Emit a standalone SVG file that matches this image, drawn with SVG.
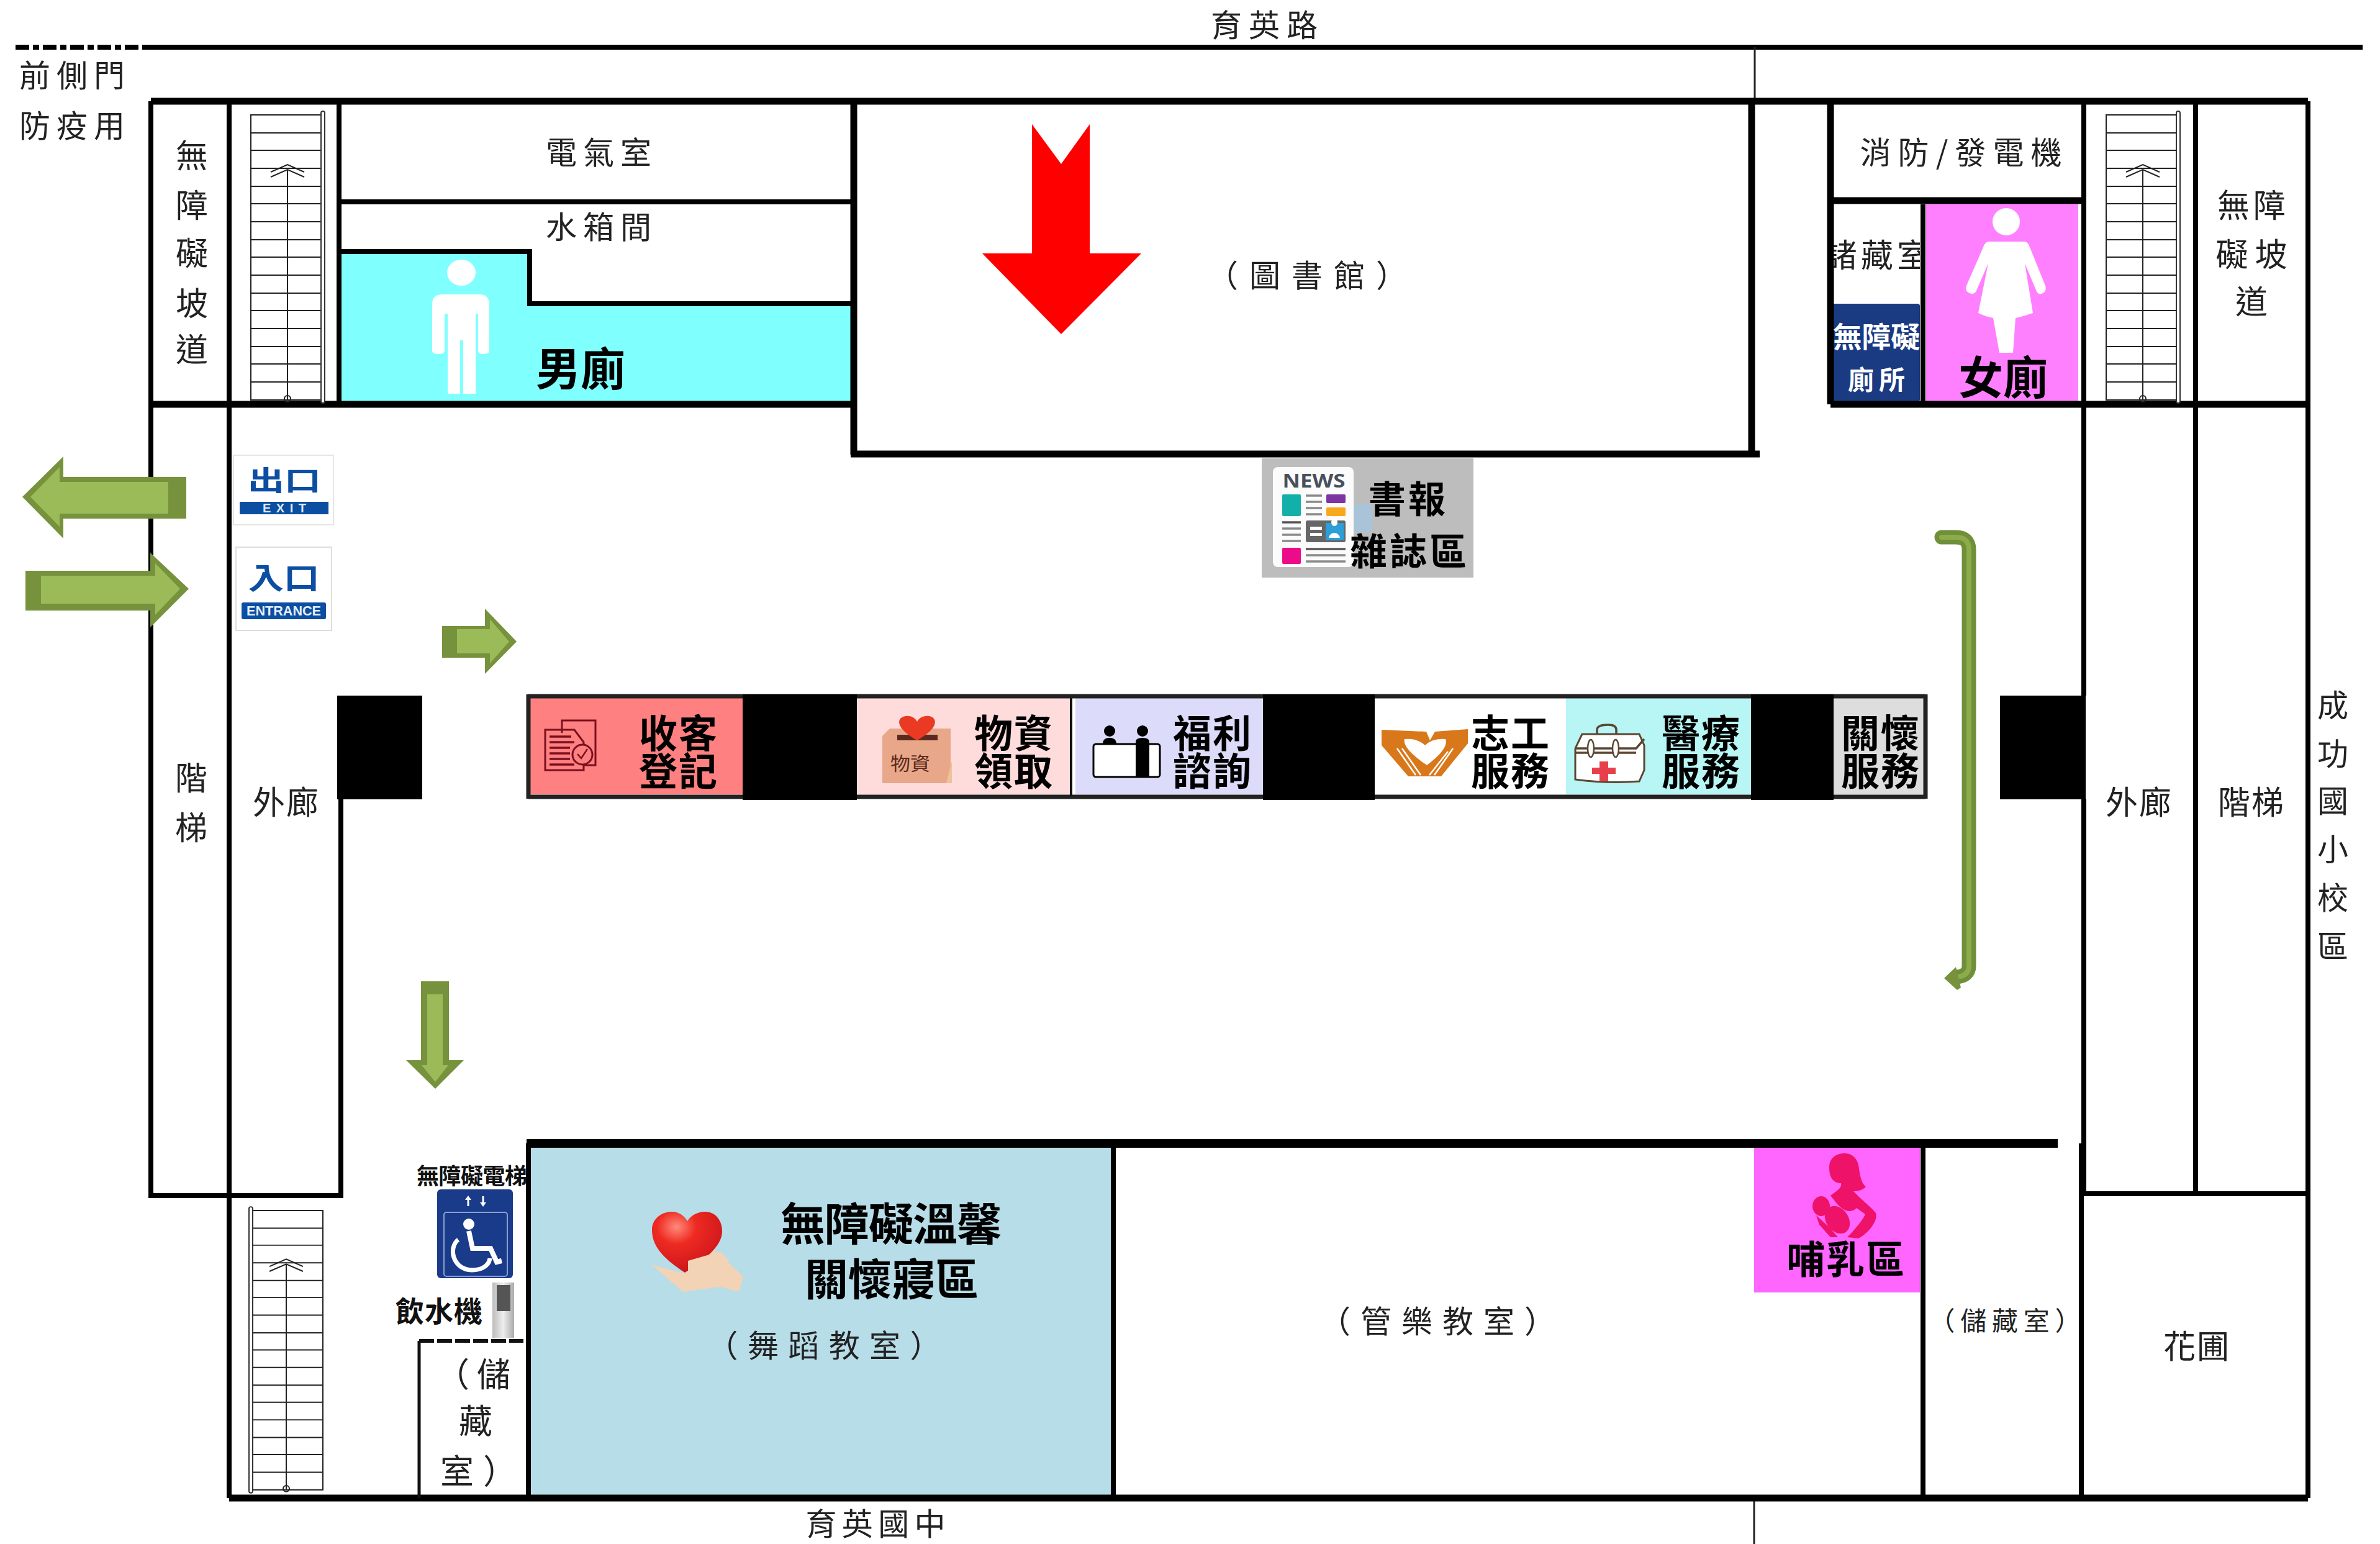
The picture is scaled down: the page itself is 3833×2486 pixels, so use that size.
<svg xmlns="http://www.w3.org/2000/svg" width="3833" height="2486" viewBox="0 0 3833 2486">
<style>
text{font-family:"Noto Sans CJK TC","Noto Sans CJK JP",sans-serif;dominant-baseline:central;text-anchor:middle;fill:#222;transform:translateY(-.11em)}
.s50{font-size:50px}.s52{font-size:52px}.s42{font-size:42px}
.b{font-weight:700;fill:#000}
.r{font-size:62px;font-weight:700;fill:#000;letter-spacing:2px}
.n{font-size:60px;font-weight:700;fill:#000;letter-spacing:4px}
.w{fill:none;stroke:#000;stroke-width:8}
.t{fill:none;stroke:#000;stroke-width:11}
.sl{fill:none;stroke:#222;stroke-width:2}
.bk{fill:#000}
.ad{fill:#76923c}.al{fill:#9bbb59}
</style>
<defs>
<g id="stair">
<rect class="sl" x="0" y="0" width="115" height="459"/>
<path class="sl" d="M0,29H115M0,57H115M0,86H115M0,115H115M0,143H115M0,172H115M0,201H115M0,229H115M0,258H115M0,287H115M0,315H115M0,344H115M0,373H115M0,401H115M0,430H115"/>
<path class="sl" d="M59,458V88M32,92L59,80L86,92M32,100L59,88L86,100"/>
<circle class="sl" cx="59" cy="457" r="5" fill="#fff"/>
<rect x="113" y="-6" width="6" height="470" rx="3" fill="#fff" stroke="#333" stroke-width="2"/>
</g>
<radialGradient id="hg" cx="35%" cy="25%" r="80%"><stop offset="0" stop-color="#ff8a7a"/><stop offset=".35" stop-color="#ee2a22"/><stop offset="1" stop-color="#c8141a"/></radialGradient>
<linearGradient id="fg" x1="0" x2="1"><stop offset="0" stop-color="#bbb"/><stop offset=".5" stop-color="#eee"/><stop offset="1" stop-color="#aaa"/></linearGradient>
</defs>
<rect width="3833" height="2486" fill="#fff"/>

<g id="fills">
<path fill="#80ffff" d="M550,405H853V489H1375V651H550Z"/>
<rect x="3102" y="329" width="245" height="319" fill="#ff80ff"/>
<rect x="2951" y="489" width="141" height="158" rx="4" fill="#1a3a82"/>
<rect x="855" y="1846" width="938" height="561" fill="#b7dde8"/>
<rect x="2825" y="1848" width="267" height="233" fill="#ff66ff"/>
<rect x="851" y="1124" width="345" height="155" fill="#ff8080"/>
<rect x="1380" y="1124" width="345" height="155" fill="#ffdcdc"/>
<rect x="1732" y="1124" width="302" height="155" fill="#dcdcfa"/>
<rect x="2522" y="1124" width="298" height="155" fill="#b8f5f5"/>
<rect x="2953" y="1124" width="148" height="155" fill="#dddddd"/>
</g>

<g id="walls">
<path class="w" d="M25,76H230" stroke-dasharray="22 6 10 6"/>
<path class="w" d="M230,76H3805"/>
<path fill="none" stroke="#222" stroke-width="3" d="M2826,76V163M2825,2413V2486"/>
<path class="w" d="M243,163V1925H549V1120M549,1287V1925M369,163V2412M546,163V651"/>
<path class="t" d="M243,163H3717"/>
<path class="w" d="M3717,163V2412M3536,163V1922M3356,163V1120M3356,1287V1922H3717M3352,1841V2412"/>
<path class="t" d="M243,651H1375M2948,651H3717M1375,163V732M2821,163V731M1370,731H2834M2948,163V651M2948,323H3354"/>
<path class="w" d="M550,325H1375M550,405H853V489H1375"/>
<path class="w" d="M3097,329V648"/>
<path class="t" d="M369,2412H3717"/>
<path fill="none" stroke="#000" stroke-width="14" d="M848,1841H3314"/>
<path class="w" d="M851,1841V2412M1793,1841V2412M3097,1848V2412"/>
<path fill="none" stroke="#111" stroke-width="5" d="M675,2412V2159"/>
<path fill="none" stroke="#111" stroke-width="6" stroke-dasharray="24 5" d="M675,2159H843"/>
</g>

<g id="service-row">
<path fill="none" stroke="#222" stroke-width="7" d="M851,1121H3101M851,1283H3101M3101,1118V1286M851,1118V1286"/>
<path fill="none" stroke="#111" stroke-width="4" d="M1725,1124V1282"/>
<rect class="bk" x="543" y="1120" width="137" height="167"/>
<rect class="bk" x="1196" y="1118" width="184" height="170"/>
<rect class="bk" x="2034" y="1118" width="180" height="170"/>
<rect class="bk" x="2820" y="1118" width="133" height="170"/>
<rect class="bk" x="3221" y="1120" width="138" height="167"/>
</g>

<g id="stairs">
<use href="#stair" transform="translate(404,185)"/>
<use href="#stair" transform="translate(3392,185)"/>
<use href="#stair" transform="translate(520,1949) scale(-1,.98)"/>
</g>

<g id="road-labels">
<text class="s50" x="2036" y="42" textLength="172">育英路</text>
<text class="s50" x="116" y="123" textLength="170">前側門</text>
<text class="s50" x="116" y="204" textLength="170">防疫用</text>
<text class="s50" x="1410" y="2455" textLength="225">育英國中</text>
<text class="s50" x="3757" y="1137">成</text><text class="s50" x="3757" y="1215">功</text><text class="s50" x="3757" y="1291">國</text><text class="s50" x="3757" y="1369">小</text><text class="s50" x="3757" y="1447">校</text><text class="s50" x="3757" y="1525">區</text>
</g>

<g id="left-wing">
<text class="s52" x="309" y="253">無</text><text class="s52" x="309" y="333">障</text><text class="s52" x="309" y="410">礙</text><text class="s52" x="309" y="491">坡</text><text class="s52" x="309" y="565">道</text>
<text class="s52" x="308" y="1255">階</text><text class="s52" x="308" y="1335">梯</text>
<text class="s52" x="460" y="1294" textLength="106">外廊</text>
<rect x="376" y="733" width="161" height="112" fill="#fff" stroke="#e6e6e6" stroke-width="2"/>
<text x="458" y="776" font-size="44" font-weight="700" style="fill:#0b4ea2" textLength="118" lengthAdjust="spacingAndGlyphs">出口</text>
<rect x="386" y="808" width="143" height="20" fill="#0b4ea2"/>
<text x="458" y="820" font-size="20" font-weight="700" style="fill:#dfe8f5;font-family:'Liberation Sans',sans-serif" textLength="70">EXIT</text>
<rect x="380" y="881" width="154" height="134" fill="#fff" stroke="#ddd" stroke-width="2"/>
<text x="457" y="932" font-size="48" font-weight="700" style="fill:#0b4ea2" textLength="115" lengthAdjust="spacingAndGlyphs">入口</text>
<rect x="389" y="970" width="136" height="27" rx="3" fill="#0b4ea2"/>
<text x="457" y="986" font-size="22" font-weight="700" style="fill:#e6eef8;font-family:'Liberation Sans',sans-serif" textLength="120" lengthAdjust="spacingAndGlyphs">ENTRANCE</text>
</g>

<g id="north-rooms">
<text class="s50" x="964" y="247" textLength="170">電氣室</text>
<text class="s50" x="964" y="367" textLength="170">水箱間</text>
<text class="b" font-size="72" x="935" y="596">男廁</text>
<path fill="#fff" d="M712,474H772Q788,474 788,490V565Q788,570 778,570Q770,570 770,565V505H766V634H746V548H741V634H721V505H716V565Q716,570 706,570Q696,570 696,565V490Q696,474 712,474Z"/>
<ellipse cx="743" cy="439" rx="23" ry="21" fill="#fff"/>
<text class="s50" x="2105" y="445" textLength="322">（圖書館）</text>
<polygon fill="#f00" points="1662,200 1709,264 1755,200 1755,408 1838,408 1709,538 1582,408 1662,408"/>
<text class="s50" x="3158" y="247" textLength="325">消防/發電機</text>
<svg x="2953" y="380" width="139" height="70" viewBox="0 0 139 70"><text class="s52" x="70" y="33" textLength="168">諸藏室</text></svg>
<text x="3022" y="544" font-size="46" font-weight="700" style="fill:#fff" textLength="140" lengthAdjust="spacingAndGlyphs">無障礙</text>
<text x="3022" y="613" font-size="42" font-weight="700" style="fill:#fff" textLength="92">廁所</text>
<ellipse cx="3231" cy="357" rx="22" ry="22" fill="#fff"/>
<path fill="#fff" d="M3203,389H3260Q3266,389 3269,398L3294,460Q3297,470 3288,473Q3282,475 3279,467L3261,424L3274,504Q3256,510 3246,512L3242,568H3220L3210,512Q3198,510 3186,504L3202,424L3183,468Q3180,475 3172,472Q3164,469 3167,460L3194,398Q3197,389 3203,389Z"/>
<text class="b" font-size="72" x="3226" y="610">女廁</text>
<text class="s52" x="3626" y="333" textLength="110">無障</text>
<text class="s52" x="3626" y="412" textLength="115">礙坡</text>
<text class="s52" x="3626" y="488">道</text>
<text class="s52" x="3444" y="1294" textLength="106">外廊</text>
<text class="s52" x="3625" y="1294" textLength="106">階梯</text>
</g>

<g id="news">
<rect x="2032" y="738" width="341" height="192" fill="#bdbdbd"/>
<rect x="2180" y="812" width="30" height="45" fill="#a9c4d9"/>
<rect x="2050" y="752" width="130" height="161" rx="8" fill="#fbfbfb"/>
<text x="2116" y="777" font-size="30" font-weight="700" style="fill:#47505c;font-family:'Open Sans','Liberation Sans',sans-serif" textLength="101" lengthAdjust="spacingAndGlyphs">NEWS</text>
<rect x="2065" y="796" width="30" height="35" rx="2" fill="#12b0a8"/>
<rect x="2136" y="796" width="31" height="14" rx="2" fill="#7d35a2"/>
<rect x="2136" y="817" width="31" height="14" rx="2" fill="#f8a81c"/>
<path stroke="#8a8a8a" stroke-width="3.5" fill="none" d="M2103,798H2129M2103,808H2129M2103,818H2129M2103,828H2129M2065,851H2095M2065,861H2095M2065,871H2095M2103,894H2167M2103,904H2167"/>
<path stroke="#555" stroke-width="3.5" fill="none" d="M2065,841H2095M2103,884H2167"/>
<rect x="2103" y="838" width="64" height="35" rx="3" fill="#666"/>
<rect x="2135" y="842" width="29" height="28" fill="#2d9fd8"/>
<path fill="#fff" d="M2149,847a5,6 0 1 1 0.1,0zM2140,866q2,-8 9,-8t9,8z"/>
<rect x="2110" y="848" width="19" height="5" fill="#fff"/><rect x="2110" y="858" width="19" height="5" fill="#fff"/>
<rect x="2065" y="882" width="30" height="26" rx="2" fill="#ec0c8a"/>
<text class="n"><tspan x="2268" y="806">書報</tspan><tspan x="2270" y="890">雜誌區</tspan></text>
</g>

<g id="registration">
<path fill="none" stroke="#7a1020" stroke-width="3" d="M905,1180V1160H959V1232H940M878,1175H925L940,1195V1240H878Z"/>
<path fill="none" stroke="#7a1020" stroke-width="3.5" d="M885,1186H920M885,1195H925M885,1204H918M885,1213H918M885,1222H918M885,1231H925"/>
<circle cx="938" cy="1215" r="16" fill="#ff8080" stroke="#7a1020" stroke-width="3"/>
<path fill="none" stroke="#7a1020" stroke-width="2.5" d="M930,1214L936,1221L946,1206"/>
<text class="r"><tspan x="1093" y="1184">收客</tspan><tspan x="1093" y="1245">登記</tspan></text>
</g>
<g id="supplies">
<path fill="#e9a78a" d="M1421,1185L1433,1173H1531V1245L1524,1261H1421Z"/>
<path fill="#f0c29a" d="M1524,1261L1533,1225V1261Z"/>
<path fill="#5a2a20" d="M1445,1183H1510V1192H1445Z"/>
<path fill="#ea3a24" d="M1477,1192C1452,1178 1444,1165 1450,1157C1458,1150 1472,1152 1477,1162C1482,1152 1498,1150 1504,1157C1510,1165 1502,1178 1477,1192Z"/>
<text x="1466" y="1230" font-size="30" textLength="64" style="fill:#5a2a1c" lengthAdjust="spacingAndGlyphs">物資</text>
<text class="r"><tspan x="1633" y="1184">物資</tspan><tspan x="1633" y="1245">領取</tspan></text>
</g>
<g id="welfare">
<circle cx="1787" cy="1177" r="9" fill="#000"/><circle cx="1840" cy="1177" r="9" fill="#000"/>
<path fill="#000" d="M1776,1198Q1776,1188 1787,1188Q1798,1188 1798,1198Z"/>
<rect x="1761" y="1198" width="107" height="53" rx="4" fill="#fff" stroke="#000" stroke-width="3"/>
<path fill="#000" d="M1829,1194Q1829,1188 1840,1188Q1851,1188 1851,1194V1250H1829Z"/>
<text class="r"><tspan x="1953" y="1184">福利</tspan><tspan x="1953" y="1245">諮詢</tspan></text>
</g>
<g id="volunteer">
<path fill="#d9781a" d="M2225,1175L2297,1178L2303,1192L2311,1178L2364,1174V1197L2321,1250H2268L2225,1200Z"/>
<path fill="#fff" d="M2262,1190Q2282,1188 2295,1200Q2308,1188 2328,1190Q2334,1205 2298,1232Q2258,1205 2262,1190Z"/>
<path stroke="#fff" stroke-width="2.5" fill="none" d="M2250,1205L2280,1248M2258,1205L2288,1248M2340,1205L2310,1248M2332,1210L2302,1248"/>
<text class="r"><tspan x="2433" y="1184">志工</tspan><tspan x="2433" y="1245">服務</tspan></text>
</g>
<g id="medical">
<path fill="#fff" stroke="#5b4632" stroke-width="3" d="M2537,1255V1205L2548,1182H2640L2648,1200V1240L2640,1258Q2590,1262 2537,1255Z"/>
<path fill="none" stroke="#5b4632" stroke-width="3.5" d="M2537,1205H2635L2648,1190M2572,1182V1175Q2572,1167 2590,1167Q2603,1167 2603,1175V1182M2537,1212H2635"/>
<ellipse cx="2562" cy="1205" rx="5" ry="14" fill="#fff" stroke="#5b4632" stroke-width="2.5"/>
<ellipse cx="2602" cy="1205" rx="5" ry="14" fill="#fff" stroke="#5b4632" stroke-width="2.5"/>
<path fill="#e8404a" d="M2576,1226H2590V1236H2602V1246H2590V1258H2576V1246H2564V1236H2576Z"/>
<text class="r"><tspan x="2740" y="1184">醫療</tspan><tspan x="2740" y="1245">服務</tspan></text>
</g>
<g id="care">
<text class="r"><tspan x="3029" y="1184">關懷</tspan><tspan x="3029" y="1245">服務</tspan></text>
</g>

<g id="south-left">
<text x="760" y="1895" font-size="36" font-weight="700" style="fill:#111" textLength="178">無障礙電梯</text>
<rect x="704" y="1915" width="122" height="143" rx="6" fill="#1a3a8a"/>
<rect x="715" y="1952" width="102" height="103" rx="4" fill="none" stroke="#8aa0d0" stroke-width="2"/>
<path fill="none" stroke="#fff" stroke-width="3" d="M754,1942V1928M778,1926V1940"/>
<path fill="#fff" d="M749,1932L754,1925L759,1932ZM773,1936L778,1943L783,1936Z"/>
<circle cx="755" cy="1971" r="9" fill="#fff"/>
<path fill="none" stroke="#fff" stroke-width="8" d="M755,1982L761,2010H790L800,2032L808,2030"/>
<path fill="none" stroke="#fff" stroke-width="7" d="M738,1996C722,2008 728,2044 760,2045C778,2045 788,2036 789,2026"/>
<rect x="793" y="2065" width="35" height="89" fill="url(#fg)"/>
<rect x="800" y="2069" width="22" height="42" fill="#555"/>
<text x="707" y="2113" font-size="46" font-weight="700" style="fill:#111" textLength="140">飲水機</text>
<text x="729" y="2215" font-size="54">（</text><text x="795" y="2215" font-size="54">儲</text><text x="766" y="2290" font-size="54">藏</text><text x="736" y="2371" font-size="54">室</text><text x="805" y="2371" font-size="54">）</text>
</g>

<g id="dance-room">
<path fill="#f2d3b6" d="M1049,2036L1100,2050L1125,2020L1150,2012L1197,2055L1190,2080L1160,2072L1100,2080Z"/>
<path fill="url(#hg)" d="M1103,2049C1066,2025 1050,2005 1050,1980C1050,1962 1066,1951 1082,1951C1094,1951 1102,1958 1107,1966C1112,1958 1122,1951 1136,1951C1152,1951 1163,1965 1163,1982C1163,2005 1140,2025 1103,2049Z"/>
<path fill="#f2d3b6" d="M1108,2030L1160,2015L1175,2030L1130,2050L1108,2048Z"/>
<text class="b" font-size="72" x="1435" y="1973" textLength="356">無障礙溫馨</text>
<text class="b" font-size="70" x="1436" y="2063" textLength="280">關懷寢區</text>
<text class="s50" x="1327" y="2168" textLength="377">（舞蹈教室）</text>
</g>
<g id="music-room">
<text class="s50" x="2315" y="2129" textLength="380">（管樂教室）</text>
</g>
<g id="nursing">
<path fill="#ee1368" d="M2946,1880C2946,1862 2960,1857 2971,1857C2985,1857 2993,1868 2994,1882C2996,1895 2998,1905 3005,1911C2998,1917 2992,1918 2985,1918C2996,1930 3015,1945 3021,1953C3025,1965 3010,1985 2993,1994L2975,1992C2985,1982 3000,1965 3004,1955L2990,1945C2985,1950 2975,1955 2960,1940L2948,1925C2962,1915 2966,1912 2965,1905C2952,1905 2946,1895 2946,1880Z"/>
<ellipse cx="2933" cy="1942" rx="14" ry="16" fill="#ee1368"/>
<ellipse cx="2959" cy="1964" rx="18" ry="24" transform="rotate(-35 2959 1964)" fill="#ee1368"/>
<path fill="#ee1368" d="M2925,1957L2945,1975L2960,1992L2948,1992L2930,1972Z"/>
<text class="b" font-size="62" x="2972" y="2031" textLength="190">哺乳區</text>
</g>
<g id="storage-garden">
<text class="s42" x="3229" y="2128" textLength="245">（儲藏室）</text>
<text class="s52" x="3537" y="2170" textLength="106">花圃</text>
</g>

<g id="connectors">
<polygon class="ad" points="36,800 102,735 102,768 300,768 300,835 102,835 102,867"/>
<polygon class="al" points="49,800 96,752 96,776 271,776 271,827 96,827 96,848"/>
<polygon class="ad" points="41,919 242,919 242,890 304,948 242,1010 242,983 41,983"/>
<polygon class="al" points="66,927 250,927 250,907 290,948 250,990 250,972 66,972"/>
<polygon class="ad" points="712,1008 781,1008 781,980 832,1033 781,1085 781,1059 712,1059"/>
<polygon class="al" points="736,1013 789,1013 789,997 820,1033 789,1068 789,1052 736,1052"/>
<polygon class="ad" points="678,1580 723,1580 723,1707 747,1707 701,1753 654,1707 678,1707"/>
<polygon class="al" points="688,1601 713,1601 713,1715 722,1715 701,1742 679,1715 688,1715"/>
<path fill="none" stroke="#6f8f3a" stroke-width="23" stroke-linecap="round" d="M3127,865H3150Q3171,865 3171,885V1555Q3171,1572 3150,1573"/>
<path fill="none" stroke="#8cab4a" stroke-width="8" stroke-linecap="round" d="M3127,865H3150Q3171,865 3171,885V1555Q3171,1572 3150,1573"/>
<polygon class="ad" points="3131,1575 3150,1557 3158,1590 3152,1594"/>
</g>
</svg>
